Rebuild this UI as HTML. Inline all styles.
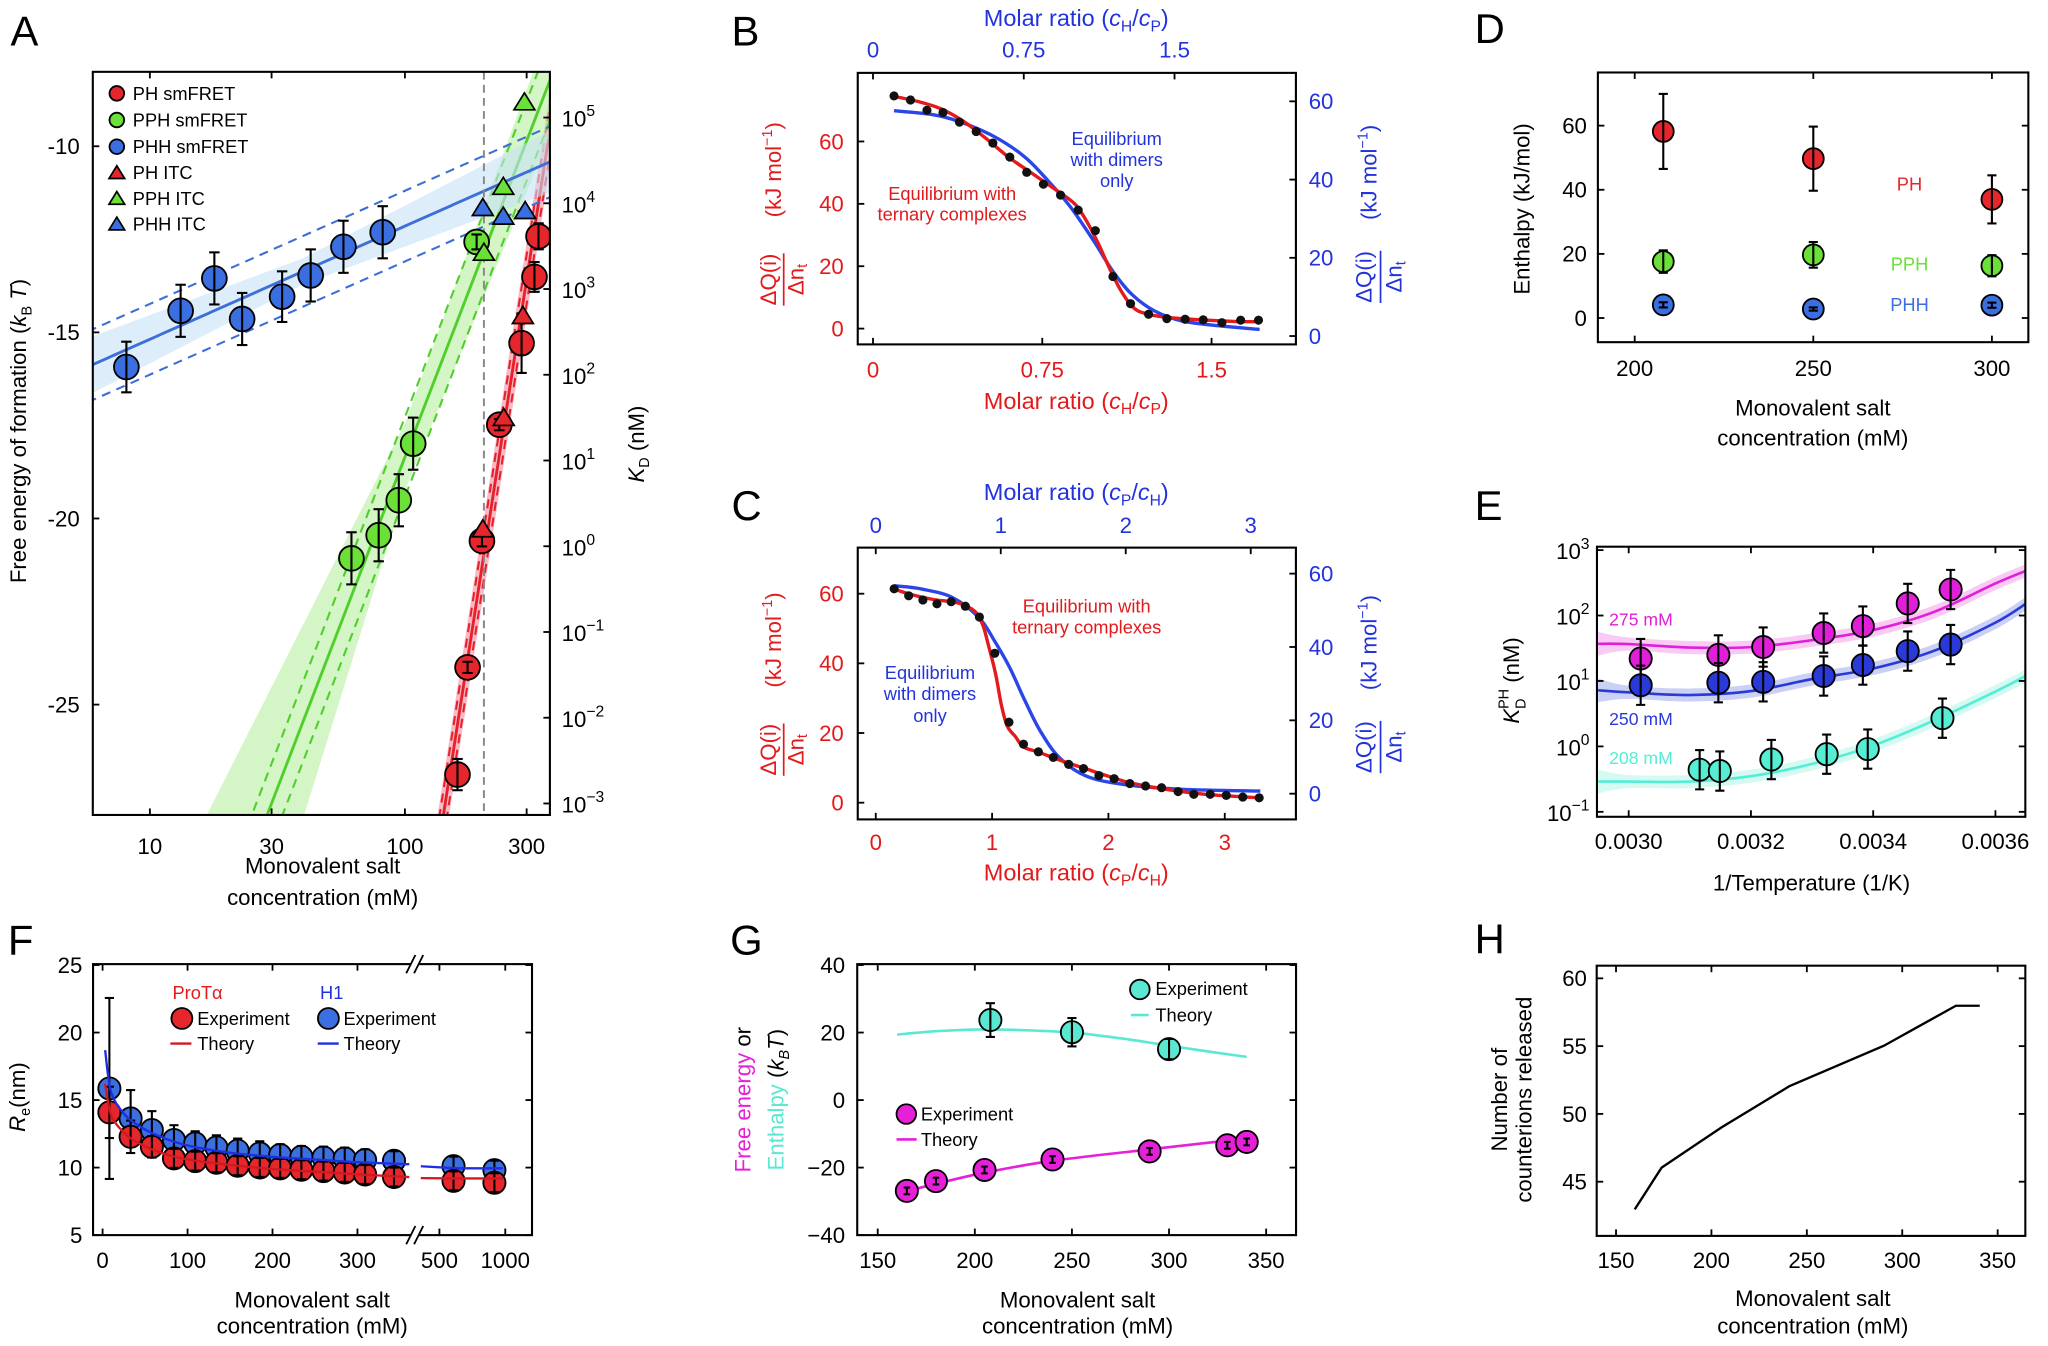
<!DOCTYPE html>
<html><head><meta charset="utf-8"><title>Figure</title>
<style>
html,body{margin:0;padding:0;background:#fff;width:2048px;height:1346px;overflow:hidden;}
svg{display:block;overflow:hidden;font-family:"Liberation Sans",Arial,sans-serif;}
text{font-family:"Liberation Sans",Arial,sans-serif;}
</style></head>
<body>
<svg id="fig" xmlns="http://www.w3.org/2000/svg" width="2048" height="1346" viewBox="0 0 1568 1030.6">
<rect x="0" y="0" width="1568" height="1030" fill="#fff"/>
<defs>
<clipPath id="clipA"><rect x="71" y="55" width="350" height="569"/></clipPath>
<clipPath id="clipB"><rect x="656.7" y="55.8" width="335.5" height="207.9"/></clipPath>
<clipPath id="clipC"><rect x="656.7" y="419.3" width="335.5" height="208.1"/></clipPath>
<clipPath id="clipE"><rect x="1222.7" y="418.6" width="328" height="206.8"/></clipPath>
</defs>
<g id="plots"></g>

<g font-size="32" fill="#000">
<text x="8" y="35">A</text>
<text x="560" y="35">B</text>
<text x="560" y="398">C</text>
<text x="1129" y="33">D</text>
<text x="1129" y="398">E</text>
<text x="6" y="731">F</text>
<text x="559" y="731">G</text>
<text x="1129" y="730">H</text>
</g>

<g font-size="17">
<text x="247" y="669" text-anchor="middle">Monovalent salt</text>
<text x="247" y="693" text-anchor="middle">concentration (mM)</text>
<text transform="translate(20,330) rotate(-90)" text-anchor="middle">Free energy of formation (<tspan font-style="italic">k</tspan><tspan font-size="11" dy="4">B</tspan><tspan dy="-4"> </tspan><tspan font-style="italic">T</tspan>)</text>
<text transform="translate(493,340) rotate(-90)" text-anchor="middle"><tspan font-style="italic">K</tspan><tspan font-size="11" dy="4">D</tspan><tspan dy="-4"> (nM)</tspan></text>
</g>
<g font-size="14">
<text x="101.6" y="76.5">PH smFRET</text>
<text x="101.6" y="96.9">PPH smFRET</text>
<text x="101.6" y="117.3">PHH smFRET</text>
<text x="101.6" y="137.2">PH ITC</text>
<text x="101.6" y="156.9">PPH ITC</text>
<text x="101.6" y="176.5">PHH ITC</text>
</g>

<g font-size="18">
<text x="824" y="20" fill="#2233dd" text-anchor="middle">Molar ratio (<tspan font-style="italic">c</tspan><tspan font-size="12" dy="4">H</tspan><tspan dy="-4">/</tspan><tspan font-style="italic">c</tspan><tspan font-size="12" dy="4">P</tspan><tspan dy="-4">)</tspan></text>
<text x="824" y="313" fill="#e31a1c" text-anchor="middle">Molar ratio (<tspan font-style="italic">c</tspan><tspan font-size="12" dy="4">H</tspan><tspan dy="-4">/</tspan><tspan font-style="italic">c</tspan><tspan font-size="12" dy="4">P</tspan><tspan dy="-4">)</tspan></text>
<text x="729" y="153" fill="#e31a1c" font-size="14" text-anchor="middle">Equilibrium with</text>
<text x="729" y="169" fill="#e31a1c" font-size="14" text-anchor="middle">ternary complexes</text>
<text x="855" y="111" fill="#2233dd" font-size="14" text-anchor="middle">Equilibrium</text>
<text x="855" y="127" fill="#2233dd" font-size="14" text-anchor="middle">with dimers</text>
<text x="855" y="143" fill="#2233dd" font-size="14" text-anchor="middle">only</text>
</g>
<g transform="translate(598,152) rotate(-90)" fill="#e31a1c" font-size="17">
<text x="-62" y="-4" text-anchor="middle">ΔQ(i)</text>
<line x1="-82" y1="2" x2="-42" y2="2" stroke="#e31a1c" stroke-width="1.3"/>
<text x="-62" y="17" text-anchor="middle">Δn<tspan font-size="11" dy="3">t</tspan></text>
<text x="22" y="0" text-anchor="middle">(kJ mol<tspan font-size="11" dy="-7">−1</tspan><tspan dy="7">)</tspan></text>
</g>
<g transform="translate(1056,152) rotate(-90)" fill="#2233dd" font-size="17">
<text x="-60" y="-6" text-anchor="middle">ΔQ(i)</text>
<line x1="-80" y1="1" x2="-40" y2="1" stroke="#2233dd" stroke-width="1.3"/>
<text x="-60" y="17" text-anchor="middle">Δn<tspan font-size="11" dy="3">t</tspan></text>
<text x="20" y="-2" text-anchor="middle">(kJ mol<tspan font-size="11" dy="-7">−1</tspan><tspan dy="7">)</tspan></text>
</g>

<g font-size="18">
<text x="824" y="383" fill="#2233dd" text-anchor="middle">Molar ratio (<tspan font-style="italic">c</tspan><tspan font-size="12" dy="4">P</tspan><tspan dy="-4">/</tspan><tspan font-style="italic">c</tspan><tspan font-size="12" dy="4">H</tspan><tspan dy="-4">)</tspan></text>
<text x="824" y="674" fill="#e31a1c" text-anchor="middle">Molar ratio (<tspan font-style="italic">c</tspan><tspan font-size="12" dy="4">P</tspan><tspan dy="-4">/</tspan><tspan font-style="italic">c</tspan><tspan font-size="12" dy="4">H</tspan><tspan dy="-4">)</tspan></text>
<text x="832" y="469" fill="#e31a1c" font-size="14" text-anchor="middle">Equilibrium with</text>
<text x="832" y="485" fill="#e31a1c" font-size="14" text-anchor="middle">ternary complexes</text>
<text x="712" y="520" fill="#2233dd" font-size="14" text-anchor="middle">Equilibrium</text>
<text x="712" y="536" fill="#2233dd" font-size="14" text-anchor="middle">with dimers</text>
<text x="712" y="553" fill="#2233dd" font-size="14" text-anchor="middle">only</text>
</g>
<g transform="translate(598,512) rotate(-90)" fill="#e31a1c" font-size="17">
<text x="-62" y="-4" text-anchor="middle">ΔQ(i)</text>
<line x1="-82" y1="2" x2="-42" y2="2" stroke="#e31a1c" stroke-width="1.3"/>
<text x="-62" y="17" text-anchor="middle">Δn<tspan font-size="11" dy="3">t</tspan></text>
<text x="22" y="0" text-anchor="middle">(kJ mol<tspan font-size="11" dy="-7">−1</tspan><tspan dy="7">)</tspan></text>
</g>
<g transform="translate(1056,512) rotate(-90)" fill="#2233dd" font-size="17">
<text x="-60" y="-6" text-anchor="middle">ΔQ(i)</text>
<line x1="-80" y1="1" x2="-40" y2="1" stroke="#2233dd" stroke-width="1.3"/>
<text x="-60" y="17" text-anchor="middle">Δn<tspan font-size="11" dy="3">t</tspan></text>
<text x="20" y="-2" text-anchor="middle">(kJ mol<tspan font-size="11" dy="-7">−1</tspan><tspan dy="7">)</tspan></text>
</g>

<g font-size="17">
<text transform="translate(1171,160) rotate(-90)" text-anchor="middle">Enthalpy (kJ/mol)</text>
<text x="1388" y="318" text-anchor="middle">Monovalent salt</text>
<text x="1388" y="341" text-anchor="middle">concentration (mM)</text>
<text x="1462" y="146" fill="#e5262d" font-size="14" text-anchor="middle">PH</text>
<text x="1462" y="207" fill="#6ae038" font-size="14" text-anchor="middle">PPH</text>
<text x="1462" y="238" fill="#3b6fe0" font-size="14" text-anchor="middle">PHH</text>
</g>

<g font-size="17">
<text transform="translate(1163,521) rotate(-90)" text-anchor="middle"><tspan font-style="italic">K</tspan><tspan font-size="11" dy="5">D</tspan><tspan font-size="11" dy="-13" dx="-8">PH</tspan><tspan dy="8"> (nM)</tspan></text>
<text x="1387" y="682" text-anchor="middle">1/Temperature (1/K)</text>
<text x="1232" y="479" fill="#e020d8" font-size="13.5">275 mM</text>
<text x="1232" y="555" fill="#2a3ad8" font-size="13.5">250 mM</text>
<text x="1232" y="585" fill="#55eed5" font-size="13.5">208 mM</text>
</g>

<g font-size="17">
<text transform="translate(19,840) rotate(-90)" text-anchor="middle"><tspan font-style="italic">R</tspan><tspan font-size="11" dy="4">e</tspan><tspan dy="-4">(nm)</tspan></text>
<text x="239" y="1001" text-anchor="middle">Monovalent salt</text>
<text x="239" y="1021" text-anchor="middle">concentration (mM)</text>
<text x="132" y="765" fill="#e31a1c" font-size="14">ProTα</text>
<text x="245" y="765" fill="#2233dd" font-size="14">H1</text>
<text x="151" y="785" font-size="14">Experiment</text>
<text x="263" y="785" font-size="14">Experiment</text>
<text x="151" y="804" font-size="14">Theory</text>
<text x="263" y="804" font-size="14">Theory</text>
</g>

<g font-size="17">
<text transform="translate(574.5,842) rotate(-90)" text-anchor="middle"><tspan fill="#e61fd8">Free energy</tspan> or</text>
<text transform="translate(600,842) rotate(-90)" text-anchor="middle"><tspan fill="#5be8d3">Enthalpy</tspan> (<tspan font-style="italic">k</tspan><tspan font-size="11" dy="4" font-style="italic">B</tspan><tspan dy="-4" font-style="italic">T</tspan>)</text>
<text x="825" y="1001" text-anchor="middle">Monovalent salt</text>
<text x="825" y="1021" text-anchor="middle">concentration (mM)</text>
<text x="884.6" y="762" font-size="14">Experiment</text>
<text x="884.6" y="782" font-size="14">Theory</text>
<text x="705" y="858" font-size="14">Experiment</text>
<text x="705" y="877.5" font-size="14">Theory</text>
</g>

<g font-size="17">
<text transform="translate(1153.7,842) rotate(-90)" text-anchor="middle">Number of</text>
<text transform="translate(1172.6,842) rotate(-90)" text-anchor="middle">counterions released</text>
<text x="1388" y="1000" text-anchor="middle">Monovalent salt</text>
<text x="1388" y="1021" text-anchor="middle">concentration (mM)</text>
</g>
</svg>

<script>
const aXTicks=[10,30,100,300];
const aXLabels=['10','30','100','300'];
const aYTicks=[-10,-15,-20,-25];
const aYLabels=['-10','-15','-20','-25'];
const aKdExps=[-3,-2,-1,0,1,2,3,4,5];
const aPhhX=[8.09,13.2,17.9,23,33,42.7,57.4,81.8];
const aPhhY=[-15.93,-14.42,-13.55,-14.64,-14.04,-13.47,-12.7,-12.31];
const aPhhErr=[0.68,0.7,0.7,0.7,0.68,0.7,0.7,0.7];
const aPphX=[61.7,78.9,94.6,107.7,191];
const aPphY=[-21.07,-20.45,-19.51,-17.99,-12.57];
const aPphErr=[0.7,0.7,0.7,0.7,0.2];
const aPhX=[160.7,176,200.4,234.4,286.6,322,334];
const aPhY=[-26.88,-24.0,-20.6,-17.48,-15.29,-13.51,-12.42];
const aPhErr=[0.42,0.15,0.15,0.15,0.8,0.4,0.35];
const aItcPhX=[202,244,290];
const aItcPhY=[-20.28,-17.29,-14.55];
const aItcPphX=[204,243,294];
const aItcPphY=[-12.85,-11.08,-8.81];
const aItcPhhX=[202,243,296];
const aItcPhhY=[-11.65,-11.88,-11.73];
const aFitSlope=[44.1,17.8,3.04];
const aFitAnchorLg=[2.151,1.46,0.778];
const aFitAnchorVal=[-27.96,-27.96,-15.86];
const aRefSalt=[204];
const bXTicks=[0,0.75,1.5];
const bXLabels=['0','0.75','1.5'];
const bYTicks=[0,20,40,60];
const bYLabels=['0','20','40','60'];
const bDotX=[0.093,0.166,0.239,0.31,0.383,0.457,0.531,0.606,0.681,0.755,0.831,0.909,0.985,1.063,1.141,1.221,1.302,1.383,1.463,1.546,1.629,1.708];
const bDotY=[74.6,73.3,70,69.3,66.2,63.2,59.5,55,50.1,46.3,42.8,38,31.4,16.7,8,4.6,3.2,3,2.8,1.9,2.7,2.7];
const bRedX=[0.09,0.2,0.3,0.4,0.5,0.6,0.7,0.8,0.85,0.9,0.95,1.0,1.05,1.1,1.15,1.2,1.3,1.45,1.6,1.71];
const bRedY=[74.5,72.8,70.5,66.5,61,55,50,45,42.5,39.5,34,27,19,12,7,5,3.6,2.8,2.3,2.2];
const bBlueX=[0.093,0.266,0.384,0.537,0.672,0.774,0.875,0.977,1.061,1.146,1.248,1.366,1.535,1.713];
const bBlueY=[57.6,56.6,54.8,51,45.8,39.8,33,24.4,16.7,10.7,6.4,3.9,2.6,1.7];
const cXTicks=[0,1,2,3];
const cXLabels=['0','1','2','3'];
const cYTicks=[0,20,40,60];
const cYLabels=['0','20','40','60'];
const cDotX=[0.158,0.283,0.405,0.526,0.648,0.77,0.891,1.023,1.145,1.27,1.398,1.526,1.658,1.786,1.918,2.049,2.184,2.319,2.457,2.599,2.734,2.875,3.013,3.155,3.296];
const cDotY=[61.4,59.4,58.2,57.1,57.7,56.4,53.3,42.9,23.1,16.8,14.6,13,11,9.8,7.8,6.9,5.5,4.8,4.3,3.2,2.4,2.4,2.1,1.6,1.4];
const cRedX=[0.15,0.3,0.5,0.7,0.85,0.92,0.97,1.03,1.08,1.13,1.2,1.27,1.4,1.6,1.8,2.0,2.2,2.5,2.8,3.0,3.3];
const cRedY=[61.4,59.8,58.3,57.4,55,51,45,37,28,22,19,16,14.5,12,9.8,7.6,5.6,3.8,2.5,2,1.4];
const cBlueX=[0.158,0.395,0.658,0.888,1.02,1.151,1.283,1.414,1.579,1.809,2.138,2.632,3.306];
const cBlueY=[56.7,55.8,53.5,48,41.7,34.4,25.3,17.1,9.8,4.8,2.5,1.2,0.7];
const dXTicks=[200,250,300];
const dXLabels=['200','250','300'];
const dYTicks=[0,20,40,60];
const dYLabels=['0','20','40','60'];
const dSalt=[208,250,300];
const dPhY=[58.2,49.7,37];
const dPhErr=[11.7,10,7.5];
const dPphY=[17.6,19.7,16.3];
const dPphErr=[3.5,4,3.3];
const dPhhY=[4.1,2.8,4.0];
const dPhhErr=[0.8,0.5,0.8];
const eXTicks=[0.0030,0.0032,0.0034,0.0036];
const eXLabels=['0.0030','0.0032','0.0034','0.0036'];
const eYExps=[-1,0,1,2,3];
const eX=[0.0030196,0.0031467,0.0032200,0.0033190,0.0033831,0.0034565,0.0035267];
const ePinkY=[22,25,33,54,69,153,250];
const eBlueY=[8.6,9.4,9.7,11.9,17.5,28.6,36];
const eCyanX=[0.0031161,0.0031491,0.0032334,0.0033239,0.0033911,0.0035133];
const eCyanY=[0.44,0.42,0.63,0.76,0.91,2.7];
const eErrDec=[0.3,0.3,0.3,0.3,0.3,0.3,0.3];
const eCurveX=[0.00295,0.0030,0.0031,0.0032,0.0033,0.0034,0.0035,0.0036,0.00365];
const eCurvePink=[37,36.6,32.4,32.9,42,60,114,309,483];
const eCurveBlue=[7.2,6.7,6.1,7.0,10.7,15.5,29,78,152];
const eCurveCyan=[0.29,0.29,0.29,0.35,0.54,1.03,2.5,6.9,12];
const fYTicks=[5,10,15,20,25];
const fYLabels=['5','10','15','20','25'];
const fXTicks=[0,100,200,300,500,1000];
const fXLabels=['0','100','200','300','500','1000'];
const fX=[8,33,58,84,109,134,159,185,209,234,260,285,309,343,580,892];
const fRedY=[14.09,12.28,11.54,10.68,10.48,10.36,10.14,10.01,9.94,9.84,9.74,9.64,9.49,9.30,9.02,8.88];
const fBlueY=[15.86,13.64,12.78,12.04,11.79,11.49,11.25,11.05,10.93,10.80,10.75,10.68,10.56,10.51,10.11,9.81];
const fRedErr=[1.9,1.2,0.8,0.7,0.7,0.7,0.7,0.7,0.7,0.7,0.7,0.7,0.7,0.7,0.7,0.7];
const fBlueErr=[6.7,2.1,1.4,1.1,0.9,0.9,0.9,0.9,0.8,0.8,0.8,0.8,0.8,0.7,0.7,0.7];
const fTheoryX1=[3,10,25,40,60,85,110,150,200,250,300,361];
const fTheoryRed1=[16.2,13.9,12.6,11.9,11.3,10.8,10.5,10.2,9.9,9.7,9.5,9.3];
const fTheoryBlue1=[18.7,15.6,14.0,13.2,12.5,11.9,11.5,11.1,10.8,10.6,10.4,10.25];
const fTheoryX2=[411,600,975];
const fTheoryRed2=[9.22,9.2,9.2];
const fTheoryBlue2=[10.1,9.95,9.95];
const gXTicks=[150,200,250,300,350];
const gXLabels=['150','200','250','300','350'];
const gYTicks=[-40,-20,0,20,40];
const gYLabels=['−40','−20','0','20','40'];
const gFreeX=[165,180,205,240,290,330,340];
const gFreeY=[-26.9,-24.0,-20.7,-17.6,-15.2,-13.4,-12.4];
const gFreeErr=[1,1,1,1,1,1,1];
const gEnthX=[208,250,300];
const gEnthY=[23.7,20.1,15.1];
const gEnthErr=[5,4.2,3];
const gEnthTheoryX=[160,180,200,220,250,280,300,320,340];
const gEnthTheoryY=[19.4,20.4,20.9,20.8,20.0,17.9,16.1,14.4,12.8];
const gFreeTheoryX=[165,180,205,240,290,330,340];
const gFreeTheoryY=[-27,-24.8,-21.5,-18.0,-14.6,-12.0,-11.4];
const hXTicks=[150,200,250,300,350];
const hXLabels=['150','200','250','300','350'];
const hYTicks=[45,50,55,60];
const hYLabels=['45','50','55','60'];
const hX=[159.8,173.9,205.2,241,290.4,328.1,340.6];
const hY=[42.96,46.04,49.0,52.06,55.03,57.98,57.98];

const NS='http://www.w3.org/2000/svg';
const root=document.getElementById('plots');
function mk(parent,tag,attrs,name){
  const el=document.createElementNS(NS,tag);
  for(const k in attrs) el.setAttribute(k,attrs[k]);
  
  
  parent.appendChild(el);
  return el;
}
function grp(parent,name,extra){return mk(parent,'g',extra||{},name);}
function txt(parent,x,y,s,anchor,name,extra){
  const t=mk(parent,'text',Object.assign({x:x,y:y,'text-anchor':anchor||'middle','font-size':17},extra||{}),name);
  t.textContent=s; return t;
}
function pow10(parent,x,y,exp,anchor,name){
  const t=mk(parent,'text',{x:x,y:y,'text-anchor':anchor,'font-size':17},name);
  t.appendChild(document.createTextNode('10'));
  const s=document.createElementNS(NS,'tspan');
  s.setAttribute('dy','-8'); s.setAttribute('font-size','12');
  s.textContent=(exp<0?'−':'')+Math.abs(exp);
  t.appendChild(s); return t;
}
function ln(parent,x1,y1,x2,y2,stroke,w,name,extra){
  return mk(parent,'line',Object.assign({x1:x1,y1:y1,x2:x2,y2:y2,stroke:stroke,'stroke-width':w},extra||{}),name);
}
function poly(pts){return pts.map((p,i)=>(i?'L':'M')+p[0].toFixed(2)+' '+p[1].toFixed(2)).join(' ');}
function smooth(pts){
  if(pts.length<3) return poly(pts);
  let d='M'+pts[0][0].toFixed(2)+' '+pts[0][1].toFixed(2);
  for(let i=0;i<pts.length-1;i++){
    const p0=pts[i-1]||pts[i],p1=pts[i],p2=pts[i+1],p3=pts[i+2]||p2;
    const c1=[p1[0]+(p2[0]-p0[0])/6,p1[1]+(p2[1]-p0[1])/6];
    const c2=[p2[0]-(p3[0]-p1[0])/6,p2[1]-(p3[1]-p1[1])/6];
    d+=' C'+c1[0].toFixed(2)+' '+c1[1].toFixed(2)+' '+c2[0].toFixed(2)+' '+c2[1].toFixed(2)+' '+p2[0].toFixed(2)+' '+p2[1].toFixed(2);
  }
  return d;
}
function circ(parent,cx,cy,r,fill,name){return mk(parent,'circle',{cx:cx,cy:cy,r:r,fill:fill,stroke:'#000','stroke-width':1.4},name);}
function errbar(parent,x,y1,y2,cap,name){
  const g=grp(parent,name);
  ln(g,x,y1,x,y2,'#000',1.6,'error-bar-stem');
  ln(g,x-cap,y1,x+cap,y1,'#000',1.6,'error-bar-cap');
  ln(g,x-cap,y2,x+cap,y2,'#000',1.6,'error-bar-cap');
  return g;
}
function frame(parent,b,name){return mk(parent,'rect',{x:b.x1,y:b.y1,width:b.x2-b.x1,height:b.y2-b.y1,fill:'none',stroke:'#000','stroke-width':1.6},name);}
function ticksX(g,b,vals,fx,top,bottom){
  vals.forEach(v=>{const x=fx(v);
    if(bottom) ln(g,x,b.y2,x,b.y2-5,'#000',1.4,'x-tick');
    if(top) ln(g,x,b.y1,x,b.y1+5,'#000',1.4,'x-tick-top');
  });
}
function ticksY(g,b,vals,fy,left,right){
  vals.forEach(v=>{const y=fy(v);
    if(left) ln(g,b.x1,y,b.x1+5,y,'#000',1.4,'y-tick');
    if(right) ln(g,b.x2,y,b.x2-5,y,'#000',1.4,'y-tick-right');
  });
}
function labelsX(g,vals,labels,fx,y,color){vals.forEach((v,i)=>txt(g,fx(v),y,labels[i],'middle','x-tick-label',{fill:color||'#000'}));}
function labelsY(g,vals,labels,fy,x,anchor,color){vals.forEach((v,i)=>txt(g,x,fy(v)+6,labels[i],anchor,'y-tick-label',{fill:color||'#000'}));}
function tri(parent,cx,cy,fill,name,s){s=s||1;
  return mk(parent,'polygon',{points:(cx-8*s)+','+(cy+6*s)+' '+(cx+8*s)+','+(cy+6*s)+' '+cx+','+(cy-7*s),fill:fill,stroke:'#000','stroke-width':1.3},name);}

const RED='#e5262d',GREEN='#6ae038',BLUE='#3b6fe0';

(function(){
  const b={x1:71,x2:421,y1:55,y2:624};
  const xA=v=>114.7+(Math.log10(v)-1)*195.3;
  const xLg=lg=>114.7+(lg-1)*195.3;
  const yA=v=>112+(-10-v)*28.5;
  const yK=e=>615.2-(e+3)*65.65;
  const g=grp(root,'panel-a');
  const c=grp(g,'a-plot-area',{'clip-path':'url(#clipA)'});
  const lineCol=['#e8202a','#4fcf2a','#3d6fd8'];
  const bandCol=['#f48ca0','#b8eea0','#c6e2f6'];
  const names=['ph','pph','phh'];
  const hw=[lg=>1.0, lg=>0.9+4.26*Math.max(0,2-lg)+1.0*Math.max(0,lg-2), lg=>0.35+0.5*Math.abs(lg-1.6)];
  const dash=[0.66,1.07,0.95];
  for(let k=0;k<3;k++){
    const f=lg=>aFitAnchorVal[k]+aFitSlope[k]*(lg-aFitAnchorLg[k]);
    const up=[],lo=[],mid=[],du=[],dl=[];
    for(let lg=0.7;lg<=2.66;lg+=0.01){
      const v=f(lg),x=xLg(lg);
      up.push([x,yA(v+hw[k](lg))]); lo.push([x,yA(v-hw[k](lg))]);
      mid.push([x,yA(v)]); du.push([x,yA(v+dash[k])]); dl.push([x,yA(v-dash[k])]);
    }
    mk(c,'path',{d:poly(up.concat(lo.reverse()))+' Z',fill:bandCol[k],opacity:0.6,stroke:'none'},'a-fit-band-'+names[k]);
    mk(c,'path',{d:poly(du),fill:'none',stroke:lineCol[k],'stroke-width':1.6,'stroke-dasharray':'7 5'},'a-fit-upper-'+names[k]);
    mk(c,'path',{d:poly(dl),fill:'none',stroke:lineCol[k],'stroke-width':1.6,'stroke-dasharray':'7 5'},'a-fit-lower-'+names[k]);
    mk(c,'path',{d:poly(mid),fill:'none',stroke:lineCol[k],'stroke-width':2.2},'a-fit-line-'+names[k]);
  }
  ln(c,xA(aRefSalt[0]),b.y1,xA(aRefSalt[0]),b.y2,'#888',1.5,'a-reference-line',{'stroke-dasharray':'6 4'});
  function series(xs,ys,es,col,nm){
    const sg=grp(c,nm);
    xs.forEach((x,i)=>{circ(sg,xA(x),yA(ys[i]),9.5,col,'a-point'); errbar(sg,xA(x),yA(ys[i]+es[i]),yA(ys[i]-es[i]),4,'a-error-bar');});
  }
  series(aPhhX,aPhhY,aPhhErr,BLUE,'a-series-phh-smfret');
  series(aPphX,aPphY,aPphErr,GREEN,'a-series-pph-smfret');
  series(aPhX,aPhY,aPhErr,RED,'a-series-ph-smfret');
  const it=grp(c,'a-itc-points');
  aItcPhX.forEach((x,i)=>tri(it,xA(x),yA(aItcPhY[i]),RED,'a-itc-ph'));
  aItcPphX.forEach((x,i)=>tri(it,xA(x),yA(aItcPphY[i]),GREEN,'a-itc-pph'));
  aItcPhhX.forEach((x,i)=>tri(it,xA(x),yA(aItcPhhY[i]),BLUE,'a-itc-phh'));
  frame(g,b,'a-plot-frame');
  ticksX(g,b,aXTicks,xA,true,true);
  ticksY(g,b,aYTicks,yA,true,false);
  aKdExps.forEach(e=>ln(g,b.x2,yK(e),b.x2-5,yK(e),'#000',1.4,'a-right-tick'));
  labelsX(g,aXTicks,aXLabels,xA,654);
  labelsY(g,aYTicks,aYLabels,yA,61,'end');
  aKdExps.forEach(e=>pow10(g,430,yK(e)+7,e,'start','a-right-tick-label'));
  const lg=grp(g,'a-legend-markers');
  circ(lg,89.4,71.5,5.6,RED,'a-legend-marker-ph');
  circ(lg,89.4,91.9,5.6,GREEN,'a-legend-marker-pph');
  circ(lg,89.4,112.3,5.6,BLUE,'a-legend-marker-phh');
  tri(lg,89.4,132.2,RED,'a-legend-marker-ph-itc',0.75);
  tri(lg,89.4,151.9,GREEN,'a-legend-marker-pph-itc',0.75);
  tri(lg,89.4,171.5,BLUE,'a-legend-marker-phh-itc',0.75);
})();

function titration(cfg){
  const b=cfg.box,g=grp(root,cfg.name);
  const c=grp(g,cfg.name+'-plot-area',{'clip-path':'url('+cfg.clip+')'});
  const redPts=cfg.redX.map((x,i)=>[cfg.xB(x),cfg.yL(cfg.redY[i])]);
  const bluePts=cfg.blueX.map((x,i)=>[cfg.xB(x),cfg.yR(cfg.blueY[i])]);
  mk(c,'path',{d:smooth(bluePts),fill:'none',stroke:'#2a46e8','stroke-width':2.6},cfg.name+'-dimer-model-curve');
  mk(c,'path',{d:smooth(redPts),fill:'none',stroke:'#e41a1c','stroke-width':2.6},cfg.name+'-ternary-model-curve');
  const dg=grp(c,cfg.name+'-data-points');
  cfg.dotX.forEach((x,i)=>mk(dg,'circle',{cx:cfg.xB(x),cy:cfg.yL(cfg.dotY[i]),r:3.5,fill:'#111'},'itc-data-point'));
  frame(g,b,cfg.name+'-plot-frame');
  ticksX(g,b,cfg.xTicks,cfg.xB,false,true);
  ticksX(g,b,cfg.xTicks,cfg.xT,true,false);
  ticksY(g,b,cfg.yTicks,cfg.yL,true,false);
  ticksY(g,b,cfg.yTicks,cfg.yR,false,true);
  labelsX(g,cfg.xTicks,cfg.xLabels,cfg.xB,cfg.botLabelY,'#e31a1c');
  labelsX(g,cfg.xTicks,cfg.xLabels,cfg.xT,cfg.topLabelY,'#2233dd');
  labelsY(g,cfg.yTicks,cfg.yLabels,cfg.yL,646,'end','#e31a1c');
  labelsY(g,cfg.yTicks,cfg.yLabels,cfg.yR,1002,'start','#2233dd');
}
titration({name:'panel-b',box:{x1:656.7,x2:992.2,y1:55.8,y2:263.7},clip:'#clipB',
  xB:v=>668.4+v*172.8, xT:v=>668.4+v*153.9, yL:v=>251.6-v*2.388, yR:v=>257.3-v*2.995,
  xTicks:bXTicks,xLabels:bXLabels,yTicks:bYTicks,yLabels:bYLabels,
  dotX:bDotX,dotY:bDotY,redX:bRedX,redY:bRedY,blueX:bBlueX,blueY:bBlueY,botLabelY:289,topLabelY:44});
titration({name:'panel-c',box:{x1:656.7,x2:992.2,y1:419.3,y2:627.4},clip:'#clipC',
  xB:v=>670.5+v*89.07, xT:v=>670.5+v*95.7, yL:v=>614.6-v*2.667, yR:v=>607.7-v*2.808,
  xTicks:cXTicks,xLabels:cXLabels,yTicks:cYTicks,yLabels:cYLabels,
  dotX:cDotX,dotY:cDotY,redX:cRedX,redY:cRedY,blueX:cBlueX,blueY:cBlueY,botLabelY:651,topLabelY:408});

(function(){
  const b={x1:1223.4,x2:1553,y1:55.5,y2:262};
  const xD=v=>1251.6+(v-200)*2.735, yD=v=>243.5-v*2.455;
  const g=grp(root,'panel-d');
  function s(ys,es,col,nm){const sg=grp(g,nm);
    dSalt.forEach((x,i)=>{circ(sg,xD(x),yD(ys[i]),8,col,'d-point'); errbar(sg,xD(x),yD(ys[i]+es[i]),yD(ys[i]-es[i]),3.5,'d-error-bar');});}
  s(dPhY,dPhErr,RED,'d-series-ph'); s(dPphY,dPphErr,GREEN,'d-series-pph'); s(dPhhY,dPhhErr,BLUE,'d-series-phh');
  frame(g,b,'d-plot-frame');
  ticksX(g,b,dXTicks,xD,true,true); ticksY(g,b,dYTicks,yD,true,true);
  labelsX(g,dXTicks,dXLabels,xD,288); labelsY(g,dYTicks,dYLabels,yD,1215,'end');
})();

(function(){
  const b={x1:1222.7,x2:1550.7,y1:418.6,y2:625.4};
  const xE=v=>1247+(v-0.003)/0.0002*93.6, yE=v=>421.2+(3-Math.log10(v))*50.1, yL=l=>421.2+(3-l)*50.1;
  const g=grp(root,'panel-e');
  const c=grp(g,'e-plot-area',{'clip-path':'url(#clipE)'});
  const cols=['#e020d8','#2a3ad8','#55eed5'], bands=['#f3a6ec','#a9b0ee','#b8f6ea'];
  const curves=[eCurvePink,eCurveBlue,eCurveCyan], nms=['275','250','208'];
  curves.forEach((cv,k)=>{
    const up=eCurveX.map((x,i)=>[xE(x),yL(Math.log10(cv[i])+0.1+(i===0?0.08:0))]);
    const lo=eCurveX.map((x,i)=>[xE(x),yL(Math.log10(cv[i])-0.1-(i===0?0.08:0))]);
    mk(c,'path',{d:smooth(up)+' L'+smooth(lo.slice().reverse()).slice(1)+' Z',fill:bands[k],opacity:0.6,stroke:'none'},'e-band-'+nms[k]);
    mk(c,'path',{d:smooth(eCurveX.map((x,i)=>[xE(x),yE(cv[i])])),fill:'none',stroke:cols[k],'stroke-width':2},'e-fit-curve-'+nms[k]);
  });
  function s(xs,ys,col,nm){const sg=grp(c,nm);
    xs.forEach((x,i)=>{circ(sg,xE(x),yE(ys[i]),8.5,col,'e-point');
      const l=Math.log10(ys[i]); errbar(sg,xE(x),yL(l+eErrDec[i]),yL(l-eErrDec[i]),3.5,'e-error-bar');});}
  s(eX,ePinkY,cols[0],'e-series-275mM'); s(eX,eBlueY,cols[1],'e-series-250mM'); s(eCyanX,eCyanY,cols[2],'e-series-208mM');
  frame(g,b,'e-plot-frame');
  ticksX(g,b,eXTicks,xE,true,true);
  ticksY(g,b,eYExps,yL,true,true);
  labelsX(g,eXTicks,eXLabels,xE,650);
  eYExps.forEach(e=>pow10(g,1217,yL(e)+7,e,'end','e-y-tick-label'));
})();

(function(){
  const b={x1:71.2,x2:407.3,y1:738.2,y2:945.7};
  const xF=v=>v<=400?78.5+v*0.6505:336.4+Math.log10(v/500)*167.5;
  const yF=v=>738.9+(25-v)*10.34;
  const g=grp(root,'panel-f');
  function s(ys,es,col,nm){const sg=grp(g,nm);
    fX.forEach((x,i)=>circ(sg,xF(x),yF(ys[i]),8.5,col,'f-point'));
    fX.forEach((x,i)=>errbar(sg,xF(x),yF(ys[i]+es[i]),yF(ys[i]-es[i]),3.5,'f-error-bar'));}
  s(fBlueY,fBlueErr,'#3b6fe0','f-series-h1');
  s(fRedY,fRedErr,'#e5262d','f-series-protalpha');
  mk(g,'path',{d:smooth(fTheoryX1.map((x,i)=>[xF(x),yF(fTheoryBlue1[i])])),fill:'none',stroke:'#1f2ee0','stroke-width':1.8},'f-theory-h1');
  mk(g,'path',{d:smooth(fTheoryX1.map((x,i)=>[xF(x),yF(fTheoryRed1[i])])),fill:'none',stroke:'#d2191f','stroke-width':1.8},'f-theory-protalpha');
  mk(g,'path',{d:poly(fTheoryX2.map((x,i)=>[xF(x),yF(fTheoryBlue2[i])])),fill:'none',stroke:'#1f2ee0','stroke-width':1.8},'f-theory-h1-high');
  mk(g,'path',{d:poly(fTheoryX2.map((x,i)=>[xF(x),yF(fTheoryRed2[i])])),fill:'none',stroke:'#d2191f','stroke-width':1.8},'f-theory-protalpha-high');
  frame(g,b,'f-plot-frame');
  ticksX(g,b,fXTicks,xF,true,true); ticksY(g,b,fYTicks,yF,true,true);
  labelsX(g,fXTicks,fXLabels,xF,971); labelsY(g,fYTicks,fYLabels,yF,63,'end');
  const bk=grp(g,'f-axis-break');
  [b.y1,b.y2].forEach(y=>{
    mk(bk,'rect',{x:315,y:y-3,width:6,height:6,fill:'#fff'},'f-break-gap');
    ln(bk,311,y+7,318,y-7,'#000',1.4,'f-break-slash');
    ln(bk,317,y+7,324,y-7,'#000',1.4,'f-break-slash');
  });
  circ(g,139.2,779.8,8,'#e5262d','f-legend-marker-protalpha');
  circ(g,251.4,779.8,8,'#3b6fe0','f-legend-marker-h1');
  ln(g,130.4,799,146.5,799,'#d2191f',1.8,'f-legend-line-protalpha');
  ln(g,243.2,799,259.3,799,'#1f2ee0',1.8,'f-legend-line-h1');
})();

(function(){
  const b={x1:656.3,x2:992.3,y1:738.2,y2:945.7};
  const xG=v=>672+(v-150)*1.487, yG=v=>738.9+(40-v)*2.585;
  const g=grp(root,'panel-g');
  const M='#e61fd8',CY='#5be8d3';
  mk(g,'path',{d:smooth(gEnthTheoryX.map((x,i)=>[xG(x),yG(gEnthTheoryY[i])])),fill:'none',stroke:CY,'stroke-width':2},'g-enthalpy-theory');
  mk(g,'path',{d:smooth(gFreeTheoryX.map((x,i)=>[xG(x),yG(gFreeTheoryY[i])])),fill:'none',stroke:M,'stroke-width':2},'g-free-energy-theory');
  const e1=grp(g,'g-enthalpy-points');
  gEnthX.forEach((x,i)=>{circ(e1,xG(x),yG(gEnthY[i]),8.5,CY,'g-enthalpy-point'); errbar(e1,xG(x),yG(gEnthY[i]+gEnthErr[i]),yG(gEnthY[i]-gEnthErr[i]),3.5,'g-error-bar');});
  const e2=grp(g,'g-free-energy-points');
  gFreeX.forEach((x,i)=>{circ(e2,xG(x),yG(gFreeY[i]),8.5,M,'g-free-energy-point'); errbar(e2,xG(x),yG(gFreeY[i]+gFreeErr[i]),yG(gFreeY[i]-gFreeErr[i]),2.5,'g-error-bar');});
  frame(g,b,'g-plot-frame');
  ticksX(g,b,gXTicks,xG,true,true); ticksY(g,b,gYTicks,yG,true,true);
  labelsX(g,gXTicks,gXLabels,xG,971); labelsY(g,gYTicks,gYLabels,yG,647,'end');
  circ(g,872.7,757.6,7.5,CY,'g-legend-marker-enthalpy');
  ln(g,865.8,777.2,879.5,777.2,CY,2,'g-legend-line-enthalpy');
  circ(g,693.9,853,7.5,M,'g-legend-marker-free-energy');
  ln(g,686.4,872.4,701.8,872.4,M,2,'g-legend-line-free-energy');
})();

(function(){
  const b={x1:1222.5,x2:1550.7,y1:739.4,y2:946.3};
  const xH=v=>1237.3+(v-150)*1.461, yH=v=>749.1+(60-v)*10.38;
  const g=grp(root,'panel-h');
  mk(g,'path',{d:poly(hX.map((x,i)=>[xH(x),yH(hY[i])])),fill:'none',stroke:'#000','stroke-width':1.8},'h-counterion-line');
  frame(g,b,'h-plot-frame');
  ticksX(g,b,hXTicks,xH,true,true); ticksY(g,b,hYTicks,yH,true,true);
  labelsX(g,hXTicks,hXLabels,xH,971); labelsY(g,hYTicks,hYLabels,yH,1215,'end');
})();
</script>
</body></html>
